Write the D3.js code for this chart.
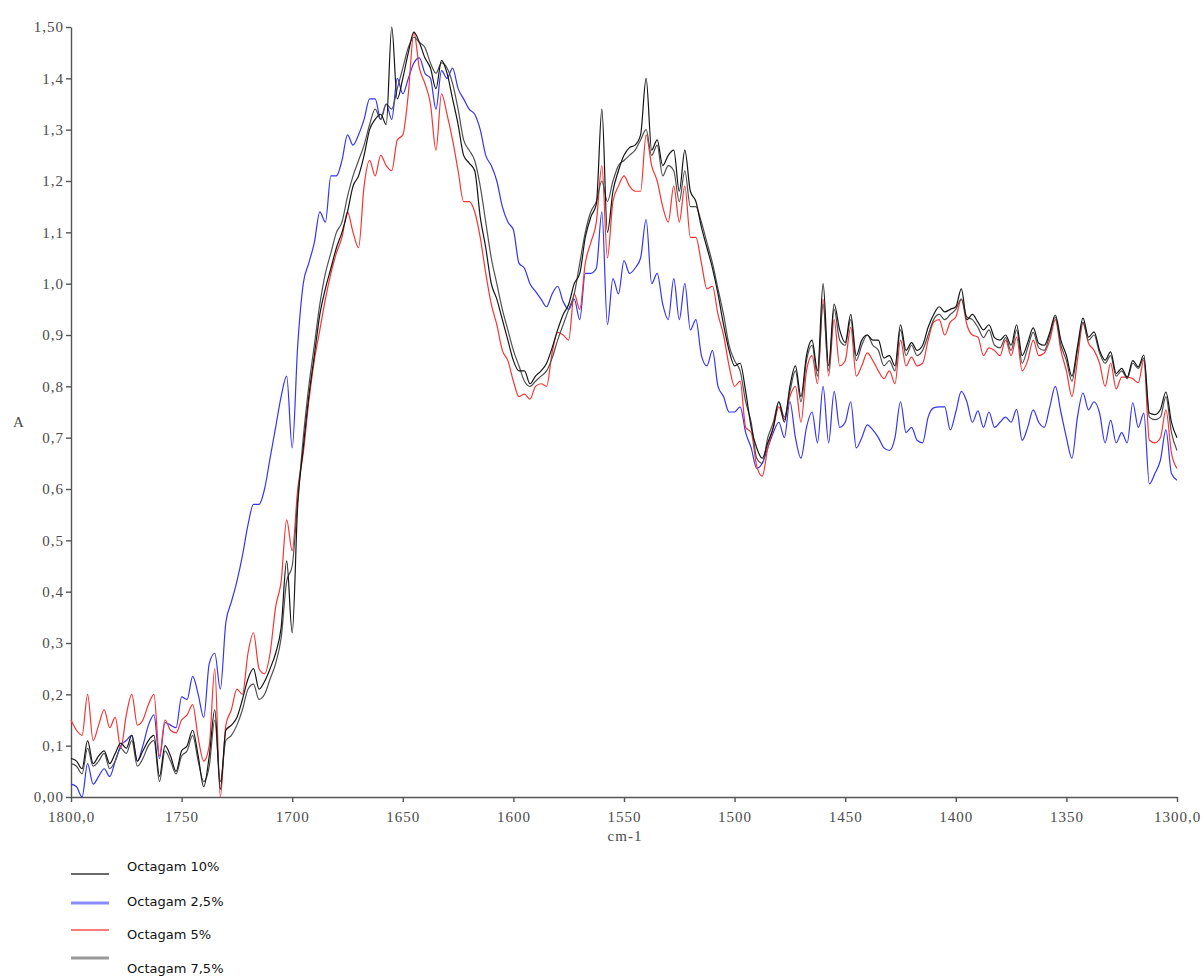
<!DOCTYPE html>
<html>
<head>
<meta charset="utf-8">
<script src="https://cdn.jsdelivr.net/npm/d3@7"></script>
<style>
  body { margin: 0; background: #fff; }
  .axis path, .axis line { stroke: #555; stroke-width: 1.4; }
  .axis text, .title { font-family: "Liberation Serif", serif; font-size: 15px; fill: #4a4a4a; letter-spacing: 1px; }
  .legend text { font-family: "DejaVu Sans", sans-serif; font-size: 13px; fill: #111; }
</style>
</head>
<body>
<div id="chart"></div>
<script>
// wavenumbers (cm-1), one reading every 2.5 cm-1
var wavenumbers = [
  1800,1797.5,1795,1792.5,1790,1787.5,1785,1782.5,1780,1777.5,
  1775,1772.5,1770,1767.5,1765,1762.5,1760,1757.5,1755,1752.5,
  1750,1747.5,1745,1742.5,1740,1737.5,1735,1732.5,1730,1727.5,
  1725,1722.5,1720,1717.5,1715,1712.5,1710,1707.5,1705,1702.5,
  1700,1697.5,1695,1692.5,1690,1687.5,1685,1682.5,1680,1677.5,
  1675,1672.5,1670,1667.5,1665,1662.5,1660,1657.5,1655,1652.5,
  1650,1647.5,1645,1642.5,1640,1637.5,1635,1632.5,1630,1627.5,
  1625,1622.5,1620,1617.5,1615,1612.5,1610,1607.5,1605,1602.5,
  1600,1597.5,1595,1592.5,1590,1587.5,1585,1582.5,1580,1577.5,
  1575,1572.5,1570,1567.5,1565,1562.5,1560,1557.5,1555,1552.5,
  1550,1547.5,1545,1542.5,1540,1537.5,1535,1532.5,1530,1527.5,
  1525,1522.5,1520,1517.5,1515,1512.5,1510,1507.5,1505,1502.5,
  1500,1497.5,1495,1492.5,1490,1487.5,1485,1482.5,1480,1477.5,
  1475,1472.5,1470,1467.5,1465,1462.5,1460,1457.5,1455,1452.5,
  1450,1447.5,1445,1442.5,1440,1437.5,1435,1432.5,1430,1427.5,
  1425,1422.5,1420,1417.5,1415,1412.5,1410,1407.5,1405,1402.5,
  1400,1397.5,1395,1392.5,1390,1387.5,1385,1382.5,1380,1377.5,
  1375,1372.5,1370,1367.5,1365,1362.5,1360,1357.5,1355,1352.5,
  1350,1347.5,1345,1342.5,1340,1337.5,1335,1332.5,1330,1327.5,
  1325,1322.5,1320,1317.5,1315,1312.5,1310,1307.5,1305,1302.5,
  1300
];

var octagam10 = [
  0.075,0.07,0.055,0.11,0.065,0.08,0.09,0.065,0.085,0.105,0.095,0.12,0.07,0.09,0.11,0.12,0.04,0.1,0.08,0.05,
  0.09,0.1,0.13,0.08,0.02,0.08,0.17,0.015,0.13,0.14,0.155,0.19,0.23,0.25,0.21,0.225,0.25,0.28,0.33,0.46,
  0.32,0.57,0.68,0.78,0.86,0.94,0.99,1.03,1.07,1.1,1.14,1.19,1.21,1.25,1.3,1.32,1.33,1.31,1.5,1.36,
  1.40,1.45,1.49,1.47,1.44,1.42,1.38,1.435,1.41,1.36,1.31,1.25,1.235,1.22,1.13,1.07,1.0,0.97,0.93,0.89,
  0.85,0.83,0.83,0.805,0.82,0.83,0.845,0.875,0.91,0.94,0.96,1.0,1.02,1.09,1.13,1.155,1.34,1.1,1.18,1.22,
  1.25,1.265,1.27,1.29,1.40,1.26,1.28,1.23,1.25,1.26,1.18,1.26,1.18,1.16,1.11,1.07,1.03,0.98,0.92,0.87,
  0.84,0.845,0.79,0.72,0.68,0.66,0.69,0.72,0.77,0.73,0.8,0.84,0.78,0.86,0.89,0.83,1.0,0.84,0.96,0.91,
  0.885,0.94,0.86,0.89,0.9,0.89,0.89,0.855,0.86,0.84,0.92,0.87,0.885,0.87,0.88,0.915,0.94,0.955,0.945,0.95,
  0.955,0.99,0.93,0.94,0.925,0.91,0.92,0.895,0.89,0.9,0.88,0.92,0.86,0.885,0.914,0.884,0.88,0.905,0.939,0.89,
  0.86,0.82,0.877,0.933,0.896,0.906,0.87,0.851,0.867,0.825,0.835,0.818,0.85,0.838,0.861,0.748,0.745,0.755,0.789,0.73,
  0.70
];

var octagam25 = [
  0.025,0.02,0.0,0.065,0.025,0.04,0.055,0.04,0.07,0.1,0.11,0.12,0.07,0.1,0.14,0.16,0.075,0.145,0.14,0.135,
  0.195,0.19,0.235,0.2,0.155,0.26,0.28,0.21,0.34,0.38,0.42,0.47,0.53,0.57,0.57,0.6,0.66,0.72,0.78,0.82,
  0.68,0.88,1.0,1.04,1.08,1.14,1.12,1.21,1.21,1.24,1.29,1.27,1.29,1.32,1.36,1.36,1.32,1.35,1.32,1.4,
  1.37,1.40,1.43,1.44,1.41,1.4,1.34,1.415,1.4,1.42,1.38,1.36,1.34,1.33,1.3,1.25,1.23,1.2,1.15,1.12,
  1.105,1.04,1.03,1.0,0.985,0.97,0.955,0.98,0.995,0.965,0.95,0.97,0.93,1.02,1.02,1.03,1.14,0.92,1.01,0.98,
  1.045,1.02,1.03,1.05,1.125,1.0,1.02,0.96,0.93,1.01,0.93,1.0,0.91,0.93,0.86,0.84,0.87,0.8,0.78,0.75,
  0.75,0.76,0.71,0.68,0.64,0.65,0.68,0.71,0.73,0.7,0.77,0.7,0.66,0.72,0.75,0.69,0.8,0.69,0.79,0.72,
  0.73,0.77,0.68,0.7,0.725,0.715,0.7,0.68,0.675,0.7,0.77,0.71,0.72,0.695,0.69,0.74,0.758,0.76,0.76,0.715,
  0.75,0.79,0.77,0.73,0.752,0.72,0.75,0.72,0.73,0.74,0.73,0.755,0.695,0.72,0.754,0.73,0.72,0.76,0.8,0.75,
  0.7,0.66,0.74,0.787,0.754,0.77,0.748,0.69,0.734,0.69,0.71,0.69,0.768,0.72,0.748,0.61,0.63,0.656,0.715,0.63,
  0.617
];

var octagam5 = [
  0.15,0.13,0.12,0.2,0.11,0.14,0.17,0.135,0.155,0.095,0.16,0.2,0.14,0.15,0.18,0.2,0.08,0.15,0.13,0.125,
  0.15,0.16,0.18,0.115,0.07,0.1,0.25,0.0,0.14,0.17,0.21,0.2,0.28,0.32,0.25,0.24,0.28,0.37,0.42,0.54,
  0.48,0.6,0.67,0.77,0.85,0.91,0.97,1.02,1.06,1.09,1.14,1.1,1.07,1.19,1.24,1.21,1.25,1.23,1.22,1.28,
  1.29,1.37,1.49,1.42,1.39,1.35,1.26,1.37,1.33,1.28,1.22,1.16,1.16,1.14,1.09,1.02,0.96,0.92,0.87,0.85,
  0.81,0.78,0.785,0.775,0.8,0.805,0.8,0.865,0.905,0.9,0.89,0.98,0.95,1.04,1.08,1.12,1.23,1.05,1.16,1.19,
  1.21,1.19,1.18,1.18,1.29,1.23,1.2,1.15,1.12,1.19,1.12,1.19,1.09,1.09,1.04,0.99,0.995,0.94,0.9,0.84,
  0.8,0.81,0.72,0.71,0.645,0.625,0.68,0.72,0.76,0.735,0.78,0.8,0.73,0.83,0.86,0.805,0.97,0.82,0.93,0.84,
  0.85,0.915,0.82,0.84,0.865,0.85,0.83,0.815,0.83,0.805,0.89,0.84,0.857,0.84,0.845,0.89,0.925,0.93,0.9,0.925,
  0.935,0.97,0.92,0.9,0.896,0.86,0.875,0.87,0.86,0.89,0.86,0.896,0.83,0.85,0.89,0.86,0.865,0.89,0.93,0.87,
  0.83,0.78,0.851,0.923,0.884,0.87,0.845,0.8,0.845,0.795,0.818,0.818,0.815,0.807,0.851,0.695,0.69,0.7,0.754,0.67,
  0.64
];

var octagam75 = [
  0.065,0.06,0.045,0.095,0.06,0.07,0.085,0.055,0.07,0.095,0.085,0.11,0.06,0.075,0.1,0.11,0.03,0.09,0.07,0.045,
  0.08,0.09,0.12,0.07,0.03,0.06,0.15,0.03,0.11,0.12,0.14,0.17,0.21,0.22,0.19,0.2,0.23,0.26,0.31,0.42,
  0.45,0.58,0.7,0.8,0.88,0.96,1.02,1.06,1.1,1.12,1.17,1.21,1.24,1.27,1.31,1.34,1.32,1.35,1.34,1.38,
  1.42,1.46,1.48,1.47,1.46,1.43,1.41,1.43,1.42,1.39,1.34,1.28,1.26,1.24,1.19,1.12,1.05,1.0,0.95,0.91,
  0.87,0.84,0.81,0.8,0.81,0.82,0.83,0.855,0.89,0.92,0.95,0.98,1.04,1.1,1.14,1.16,1.2,1.16,1.2,1.23,
  1.24,1.25,1.26,1.28,1.3,1.25,1.27,1.21,1.23,1.22,1.16,1.22,1.15,1.15,1.12,1.08,1.04,0.99,0.94,0.88,
  0.85,0.83,0.77,0.73,0.66,0.65,0.7,0.73,0.77,0.74,0.79,0.83,0.77,0.85,0.88,0.82,0.96,0.83,0.95,0.89,
  0.88,0.93,0.85,0.88,0.9,0.88,0.87,0.84,0.85,0.83,0.91,0.86,0.88,0.86,0.87,0.9,0.93,0.94,0.93,0.94,
  0.95,0.97,0.935,0.93,0.915,0.895,0.91,0.88,0.875,0.895,0.87,0.91,0.845,0.875,0.905,0.875,0.87,0.9,0.935,0.88,
  0.85,0.81,0.87,0.925,0.89,0.9,0.865,0.845,0.86,0.82,0.83,0.815,0.845,0.835,0.855,0.74,0.735,0.74,0.78,0.71,
  0.675
];

var seriesNames = ["Octagam 10%", "Octagam 2,5%", "Octagam 5%", "Octagam 7,5%"];

var xTicks = [1800, 1750, 1700, 1650, 1600, 1550, 1500, 1450, 1400, 1350, 1300];
var xTickLabels = ["1800,0", "1750", "1700", "1650", "1600", "1550", "1500", "1450", "1400", "1350", "1300,0"];
var yTicks = [0, 0.1, 0.2, 0.3, 0.4, 0.5, 0.6, 0.7, 0.8, 0.9, 1.0, 1.1, 1.2, 1.3, 1.4, 1.5];
var yTickLabels = ["0,00", "0,1", "0,2", "0,3", "0,4", "0,5", "0,6", "0,7", "0,8", "0,9", "1,0", "1,1", "1,2", "1,3", "1,4", "1,50"];

var width = 1204, height = 979;
var plot = { left: 71, right: 1177, top: 27, bottom: 797 };

var svg = d3.select("#chart").append("svg")
    .attr("width", width)
    .attr("height", height);

var x = d3.scaleLinear().domain([1800, 1300]).range([plot.left, plot.right]);
var y = d3.scaleLinear().domain([0, 1.5]).range([plot.bottom, plot.top]);

var xAxis = d3.axisBottom(x)
    .tickValues(xTicks)
    .tickSize(5)
    .tickSizeOuter(0)
    .tickFormat(function (d, i) { return xTickLabels[i]; });

var yAxis = d3.axisLeft(y)
    .tickValues(yTicks)
    .tickSize(5)
    .tickSizeOuter(0)
    .tickFormat(function (d, i) { return yTickLabels[i]; });

var gx = svg.append("g")
    .attr("class", "x axis")
    .attr("transform", "translate(0," + plot.bottom + ")")
    .call(xAxis);
gx.selectAll("text").attr("y", 14);

var gy = svg.append("g")
    .attr("class", "y axis")
    .attr("transform", "translate(" + plot.left + ",0)")
    .call(yAxis);
gy.selectAll("text").attr("x", -7);

svg.append("text")
    .attr("class", "title")
    .attr("x", 625).attr("y", 841)
    .attr("text-anchor", "middle")
    .text("cm-1");

svg.append("text")
    .attr("class", "title")
    .attr("x", 19).attr("y", 427)
    .attr("text-anchor", "middle")
    .text("A");

// spectra, drawn bottom to top
var series = [
    { name: seriesNames[1], values: octagam25, color: "#3535f5" },
    { name: seriesNames[2], values: octagam5, color: "#f53535" },
    { name: seriesNames[3], values: octagam75, color: "#505050" },
    { name: seriesNames[0], values: octagam10, color: "#151515" }
];

var line = d3.line()
    .x(function (d, i) { return x(wavenumbers[i]); })
    .y(function (d) { return y(d); })
    .curve(d3.curveMonotoneX);

svg.selectAll(".spectrum")
    .data(series)
    .enter().append("path")
    .attr("class", "spectrum")
    .attr("fill", "none")
    .attr("stroke", function (d) { return d.color; })
    .attr("stroke-width", 1.2)
    .attr("stroke-linejoin", "round")
    .attr("d", function (d) { return line(d.values); });

// legend (lines sit a little off the text rows, as in the original)
var legendItems = [
    { name: seriesNames[0], color: "#6a6a6a", w: 2, ly: 874, ty: 871 },
    { name: seriesNames[1], color: "#8a8aff", w: 3, ly: 903, ty: 906 },
    { name: seriesNames[2], color: "#ff7c7c", w: 2, ly: 930, ty: 939 },
    { name: seriesNames[3], color: "#9a9a9a", w: 3, ly: 958, ty: 973 }
];

var legend = svg.append("g").attr("class", "legend");

legend.selectAll("line")
    .data(legendItems)
    .enter().append("line")
    .attr("x1", 71).attr("x2", 109)
    .attr("y1", function (d) { return d.ly; })
    .attr("y2", function (d) { return d.ly; })
    .attr("stroke", function (d) { return d.color; })
    .attr("stroke-width", function (d) { return d.w; });

legend.selectAll("text")
    .data(legendItems)
    .enter().append("text")
    .attr("x", 127)
    .attr("y", function (d) { return d.ty; })
    .text(function (d) { return d.name; });
</script>
</body>
</html>
